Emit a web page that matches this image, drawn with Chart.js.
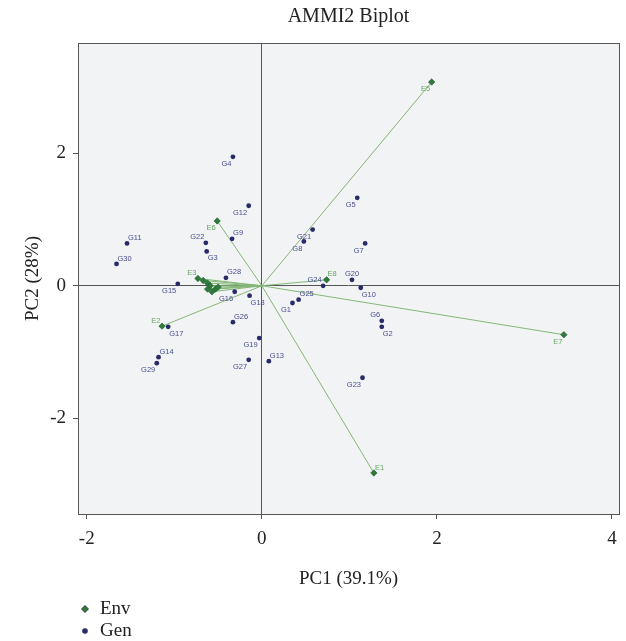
<!DOCTYPE html>
<html>
<head>
<meta charset="utf-8">
<title>AMMI2 Biplot</title>
<script src="https://cdn.jsdelivr.net/npm/chart.js@4.4.1/dist/chart.umd.min.js"></script>
<style>
  html, body { margin: 0; padding: 0; background: #fff; }
  #wrap { width: 626px; height: 641px; }
</style>
</head>
<body>
<div id="wrap"><canvas id="biplot" width="626" height="641"></canvas></div>
<script>
// genotype scores
const genNames = ['G1', 'G2', 'G3', 'G4', 'G5', 'G6', 'G7', 'G8', 'G9', 'G10',
                  'G11', 'G12', 'G13', 'G14', 'G15', 'G16', 'G17', 'G18', 'G19', 'G20',
                  'G21', 'G22', 'G23', 'G24', 'G25', 'G26', 'G27', 'G28', 'G29', 'G30'];
const genPC1 = [0.35, 1.37, -0.63, -0.33, 1.09, 1.37, 1.18, 0.48, -0.34, 1.13,
                -1.54, -0.15, 0.08, -1.18, -0.96, -0.31, -1.07, -0.14, -0.03, 1.03,
                0.58, -0.64, 1.15, 0.70, 0.42, -0.33, -0.15, -0.41, -1.20, -1.66];
const genPC2 = [-0.26, -0.62, 0.52, 1.95, 1.33, -0.53, 0.64, 0.67, 0.71, -0.03,
                0.64, 1.21, -1.14, -1.08, 0.03, -0.09, -0.62, -0.15, -0.79, 0.09,
                0.85, 0.65, -1.39, 0.00, -0.21, -0.55, -1.12, 0.12, -1.17, 0.33];

// environment scores (the ones near E3 overlap, their labels are hidden)
const envNames = ['E1', 'E2', 'E3', 'E4', 'E5', 'E6', 'E7', 'E8', 'E9', 'E10', 'E11', 'E12', 'E13', 'E14'];
const envPC1 = [1.28, -1.14, -0.73, -0.67, 1.94, -0.51, 3.45, 0.74, -0.62, -0.59, -0.62, -0.57, -0.53, -0.50];
const envPC2 = [-2.83, -0.61, 0.11, 0.08, 3.08, 0.98, -0.74, 0.09, 0.04, 0.00, -0.05, -0.09, -0.05, -0.02];

const xTicks = [-2, 0, 2, 4];
const yTicks = [-2, 0, 2];

// where each label sits around its point
const genSpot = ['bl', 'br', 'br', 'bl', 'bl', 'tl', 'bl', 'bl', 'tr', 'br',
                 'tr', 'bl', 'tr', 'tr', 'bl', 'bl', 'br', 'br', 'bl', 't',
                 'bl', 'tl', 'bl', 'tl', 'tr', 'tr', 'bl', 'tr', 'bl', 'tr'];
const envSpot = ['tr', 'tl', 'tl', null, 'bl', 'bl', 'bl', 'tr', null, null, null, null, null, null];

const serif = '"Liberation Serif", "Times New Roman", serif';
const sans = '"Liberation Sans", Arial, sans-serif';
const frameColor = '#555';
const genColor = '#272b68';
const envColor = '#2f7a3b';
const rayColor = '#84b877';

const genPoints = genNames.map((n, i) => ({ x: genPC1[i], y: genPC2[i] }));
const envPoints = envNames.map((n, i) => ({ x: envPC1[i], y: envPC2[i] }));

const rays = envPoints.map(p => ({
    data: [{ x: 0, y: 0 }, p],
    showLine: true,
    borderColor: rayColor,
    borderWidth: 1,
    pointRadius: 0,
    order: 5
}));

const plotFrame = {
    id: 'plotFrame',
    beforeDraw(chart) {
        const { ctx, chartArea: a } = chart;
        ctx.save();
        ctx.fillStyle = '#f2f3f5';
        ctx.fillRect(a.left, a.top, a.right - a.left, a.bottom - a.top);
        ctx.restore();
    },
    afterDraw(chart) {
        const { ctx, chartArea: a } = chart;
        ctx.save();
        ctx.strokeStyle = frameColor;
        ctx.lineWidth = 1;
        ctx.strokeRect(Math.round(a.left) + 0.5, Math.round(a.top) + 0.5,
            Math.round(a.right - a.left), Math.round(a.bottom - a.top));
        ctx.restore();
    }
};

const spots = {
    bl: { dx: -1.5, dy: 7, align: 'right' },
    br: { dx: 1, dy: 7, align: 'left' },
    tl: { dx: -1.5, dy: -5.5, align: 'right' },
    tr: { dx: 1, dy: -5.5, align: 'left' },
    t: { dx: 0, dy: -6, align: 'center' }
};

const pointLabels = {
    id: 'pointLabels',
    afterDatasetsDraw(chart) {
        const { ctx, scales: { x, y } } = chart;
        ctx.save();
        ctx.font = '7.5px ' + sans;
        ctx.textBaseline = 'middle';
        const put = (name, px, py, spot, color) => {
            if (!spot) return;
            const s = spots[spot];
            ctx.fillStyle = color;
            ctx.textAlign = s.align;
            ctx.fillText(name, x.getPixelForValue(px) + s.dx, y.getPixelForValue(py) + s.dy);
        };
        genNames.forEach((n, i) => put(n, genPC1[i], genPC2[i], genSpot[i], '#4a4e8e'));
        envNames.forEach((n, i) => put(n, envPC1[i], envPC2[i], envSpot[i], '#67a865'));
        ctx.restore();
    }
};

const sideLegend = {
    id: 'sideLegend',
    afterDraw(chart) {
        const { ctx } = chart;
        ctx.save();
        ctx.font = '19px ' + serif;
        ctx.textBaseline = 'middle';
        ctx.textAlign = 'left';
        // Env
        ctx.beginPath();
        ctx.moveTo(85, 605.5); ctx.lineTo(88.5, 609); ctx.lineTo(85, 612.5); ctx.lineTo(81.5, 609);
        ctx.closePath();
        ctx.fillStyle = envColor; ctx.fill();
        ctx.strokeStyle = '#222'; ctx.lineWidth = 0.8; ctx.stroke();
        ctx.fillStyle = '#222';
        ctx.fillText('Env', 100, 609);
        // Gen
        ctx.beginPath();
        ctx.arc(85, 631, 2.8, 0, Math.PI * 2);
        ctx.fillStyle = genColor; ctx.fill();
        ctx.fillStyle = '#222';
        ctx.fillText('Gen', 100, 631);
        ctx.restore();
    }
};

const zeroLine = c => (c.tick && c.tick.value === 0 ? frameColor : 'rgba(0,0,0,0)');

const config = {
    type: 'scatter',
    data: {
        datasets: [
            {
                label: 'Gen',
                data: genPoints,
                pointStyle: 'circle',
                pointRadius: 2.4,
                backgroundColor: genColor,
                borderColor: genColor,
                borderWidth: 0,
                order: 0
            },
            {
                label: 'Env',
                data: envPoints,
                pointStyle: 'rectRot',
                pointRadius: 3.2,
                backgroundColor: envColor,
                borderColor: '#1f5a2a',
                borderWidth: 0.6,
                order: 1
            },
            ...rays
        ]
    },
    options: {
        responsive: false,
        animation: false,
        layout: { padding: { left: 0, right: 7, top: 0, bottom: 0 } },
        scales: {
            x: {
                type: 'linear',
                min: -2.1,
                max: 4.08,
                afterBuildTicks: s => { s.ticks = xTicks.map(v => ({ value: v })); },
                afterFit: s => { s.height = 127; },
                grid: { color: zeroLine, tickColor: frameColor, tickLength: 5, lineWidth: 1 },
                border: { display: false },
                ticks: { padding: 9, color: '#222', font: { family: serif, size: 19 } },
                title: {
                    display: true,
                    text: 'PC1 (39.1%)',
                    color: '#222',
                    font: { family: serif, size: 19 },
                    padding: { top: 0, bottom: 51 }
                }
            },
            y: {
                type: 'linear',
                min: -3.45,
                max: 3.67,
                afterBuildTicks: s => { s.ticks = yTicks.map(v => ({ value: v })); },
                afterFit: s => { s.width = 78; },
                grid: { color: zeroLine, tickColor: frameColor, tickLength: 5, lineWidth: 1 },
                border: { display: false },
                ticks: { padding: 7, color: '#222', font: { family: serif, size: 19 } },
                title: {
                    display: true,
                    text: 'PC2 (28%)',
                    color: '#222',
                    font: { family: serif, size: 19 },
                    padding: { top: 22, bottom: 0 }
                }
            }
        },
        plugins: {
            legend: { display: false },
            tooltip: { enabled: false },
            title: {
                display: true,
                text: 'AMMI2 Biplot',
                fullSize: false,
                color: '#222',
                font: { family: serif, size: 20, weight: 'normal' },
                padding: { top: 5, bottom: 14 }
            }
        }
    },
    plugins: [plotFrame, pointLabels, sideLegend]
};

const biplot = new Chart(document.getElementById('biplot'), config);
</script>
</body>
</html>
